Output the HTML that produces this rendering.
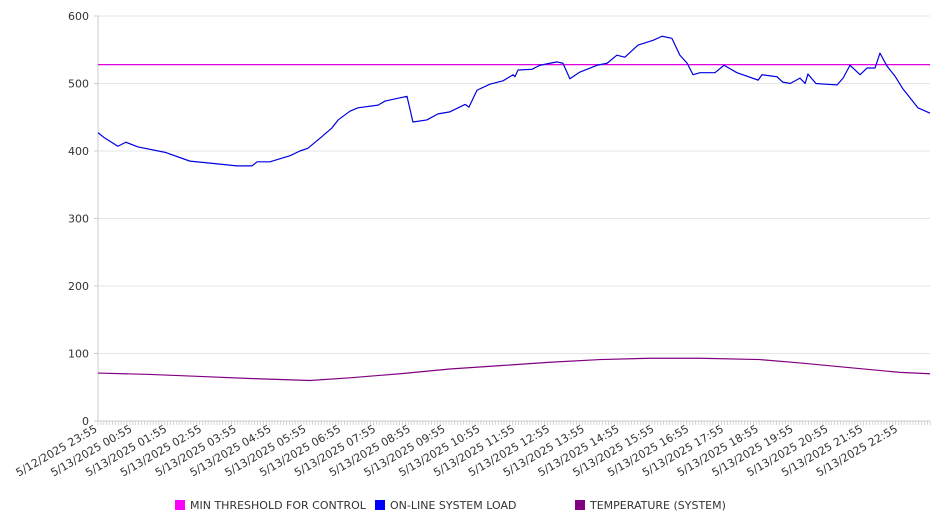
<!DOCTYPE html>
<html><head><meta charset="utf-8"><style>
html,body{margin:0;padding:0;background:#fff;}
svg{display:block;font-family:"DejaVu Sans","Liberation Sans",sans-serif;}
</style></head><body>
<svg id="chart" width="946" height="526" xmlns="http://www.w3.org/2000/svg">
<g id="grid"></g>
<g id="yaxis"></g>
<g id="xaxis"></g>
<g id="series"></g>
<g id="legend"></g>
</svg>
<script>
const yTicks = [0, 100, 200, 300, 400, 500, 600];
const xLabels = ["5/12/2025 23:55","5/13/2025 00:55","5/13/2025 01:55","5/13/2025 02:55","5/13/2025 03:55","5/13/2025 04:55","5/13/2025 05:55","5/13/2025 06:55","5/13/2025 07:55","5/13/2025 08:55","5/13/2025 09:55","5/13/2025 10:55","5/13/2025 11:55","5/13/2025 12:55","5/13/2025 13:55","5/13/2025 14:55","5/13/2025 15:55","5/13/2025 16:55","5/13/2025 17:55","5/13/2025 18:55","5/13/2025 19:55","5/13/2025 20:55","5/13/2025 21:55","5/13/2025 22:55"];
const thresholdValue = 528;
const loadHours = [0,.20,.57,.80,1.15,1.93,2.64,3.22,3.99,4.43,4.57,4.94,5.52,5.80,6.03,6.38,6.72,6.90,7.24,7.47,8.05,8.25,8.88,9.05,9.45,9.77,10.11,10.55,10.66,10.89,11.26,11.64,11.93,11.98,12.07,12.47,12.70,13.19,13.36,13.56,13.85,14.34,14.63,14.91,15.14,15.52,15.95,16.21,16.49,16.72,16.93,17.10,17.30,17.73,17.99,18.36,18.97,19.08,19.51,19.68,19.89,20.17,20.32,20.40,20.63,20.89,21.24,21.41,21.61,21.90,22.10,22.33,22.47,22.67,22.90,23.13,23.56,23.91];
const loadValues = [427,419,407,413,406,398,385,382,378,378,384,384,393,400,404,419,434,446,459,464,468,474,481,443,446,455,458,469,465,490,499,504,513,510,520,521,527,532,530,507,517,527,530,542,539,557,564,570,567,542,530,513,516,516,527,516,505,513,510,502,500,508,500,514,500,499,498,508,527,513,523,523,545,526,511,492,464,456];
const tempHours = [0,1.49,2.93,4.37,6.09,7.24,8.68,10.11,11.55,12.99,14.43,15.86,17.30,19.02,20.17,21.61,23.05,23.91];
const tempValues = [71,69,66,63,60,64,70,77,82,87,91,93,93,91,86,79,72,70];

const NS="http://www.w3.org/2000/svg";
const X0=98, X1=930, Y0=421, Y1=16, HPX=34.8;
const xs=h=>X0+h*HPX;
const ys=v=>Y0-(v/600)*(Y0-Y1);
function mk(tag,attrs,parent){const e=document.createElementNS(NS,tag);for(const k in attrs)e.setAttribute(k,attrs[k]);parent.appendChild(e);return e;}
const grid=document.getElementById('grid'),yax=document.getElementById('yaxis'),xax=document.getElementById('xaxis'),ser=document.getElementById('series'),leg=document.getElementById('legend');

yTicks.forEach(v=>{
  const g=mk('line',{x1:X0,x2:X1,y1:ys(v),y2:ys(v),stroke:'#e6e6e6','stroke-width':1},grid);
  
  
  const t=mk('line',{x1:X0-4,x2:X0,y1:ys(v),y2:ys(v),stroke:'#ccc'},yax);
  
  
  const l=mk('text',{x:89,y:ys(v)+4,'text-anchor':'end','font-size':11,fill:'#333'},yax);
  l.textContent=v;
  
  
});
const ax=mk('line',{x1:X0,x2:X0,y1:Y1,y2:Y0,stroke:'#ccc'},yax);


const xl=mk('line',{x1:X0,x2:X1,y1:Y0,y2:Y0,stroke:'#ccc'},xax);


for(let i=0;i<288;i++){
  const x=X0+i*HPX/12;
  if(x>X1+0.5)break;
  const t=mk('line',{x1:x,x2:x,y1:Y0,y2:Y0+4,stroke:'#ccc','stroke-width':0.8},xax);
  
  
}
xLabels.forEach((s,i)=>{
  const x=xs(i),y=Y0+10;
  const t=mk('text',{x:x,y:y,'text-anchor':'end','font-size':11,fill:'#333',transform:`rotate(-30 ${x} ${y})`},xax);
  t.textContent=s;
  
  
});

const th=mk('line',{x1:X0,x2:X1,y1:ys(thresholdValue),y2:ys(thresholdValue),stroke:'#e000e0','stroke-width':1.2},ser);


const lp=mk('polyline',{points:loadHours.map((h,i)=>xs(h)+','+ys(loadValues[i])).join(' '),fill:'none',stroke:'#0000e0','stroke-width':1.2,'stroke-linejoin':'round'},ser);


const tp=mk('polyline',{points:tempHours.map((h,i)=>xs(h)+','+ys(tempValues[i])).join(' '),fill:'none',stroke:'#800080','stroke-width':1.2},ser);



const items=[["MIN THRESHOLD FOR CONTROL","#ff00ff",175],["ON-LINE SYSTEM LOAD","#0000ff",375],["TEMPERATURE (SYSTEM)","#800080",575]];
items.forEach(([n,c,x])=>{
  const g=mk('g',{},leg);
  
  
  mk('rect',{x:x,y:500,width:10,height:10,fill:c},g);
  const t=mk('text',{x:x+15,y:509,'font-size':11,fill:'#333'},g);
  t.textContent=n;
});
</script>
</body></html>
